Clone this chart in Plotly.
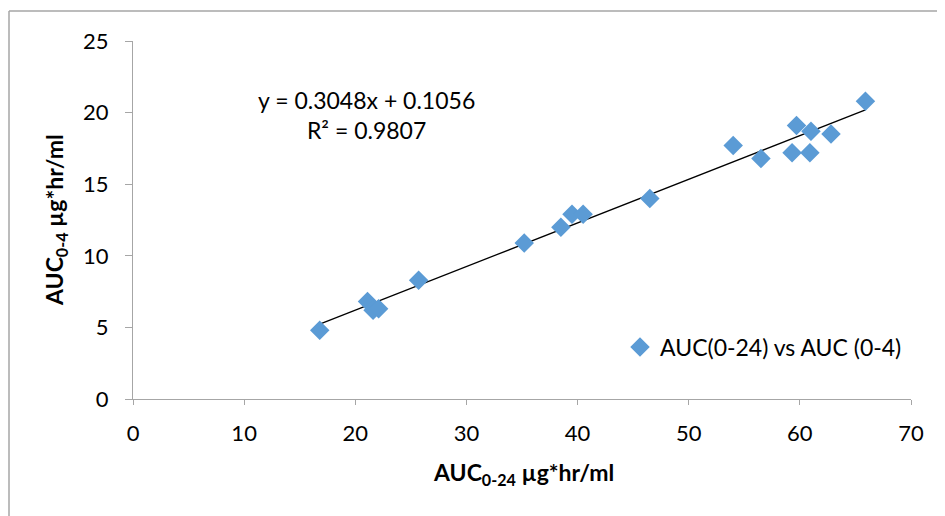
import plotly.graph_objects as go

auc_0_24 = [16.8, 21.1, 21.6, 22.1, 25.7, 35.2, 38.5, 39.5, 40.5, 46.5, 54.0, 56.5, 59.3, 59.7, 60.9, 61.0, 62.8, 65.9]
auc_0_4 = [4.8, 6.8, 6.2, 6.3, 8.3, 10.9, 12.0, 12.9, 12.9, 14.0, 17.7, 16.8, 17.2, 19.1, 17.2, 18.7, 18.5, 20.8]
slope = 0.3048
intercept = 0.1056
r2 = 0.9807
x_ticks = [0, 10, 20, 30, 40, 50, 60, 70]
y_ticks = [0, 5, 10, 15, 20, 25]

FONT = "Lato"
BLUE = "#5B9BD5"
GRID = "#A6A6A6"

# page offset of the figure inside the browser (default body margin)
OFF = 8
PW, PH = 778, 358  # plot area size

xmin, xmax = min(auc_0_24), max(auc_0_24)

fig = go.Figure()
fig.add_trace(go.Scatter(
    x=[xmin, xmax], y=[slope * xmin + intercept, slope * xmax + intercept],
    mode="lines", line=dict(color="black", width=1.3), showlegend=False, hoverinfo="skip"))
fig.add_trace(go.Scatter(
    x=auc_0_24, y=auc_0_4, mode="markers", name="AUC(0-24) vs AUC (0-4)",
    marker=dict(symbol="diamond", size=15, color=BLUE, line=dict(width=0))))

fig.update_layout(
    width=945 - OFF, height=516 - OFF,
    margin=dict(l=133 - OFF, r=34, t=41 - OFF, b=117),
    paper_bgcolor="white", plot_bgcolor="white",
    font=dict(family=FONT, size=23, color="black"),
    showlegend=True,
    legend=dict(x=0.626, y=0.145, xanchor="left", yanchor="middle",
                bgcolor="rgba(0,0,0,0)", font=dict(size=23, family=FONT),
                itemwidth=30),
    xaxis=dict(range=[0, 70], tickvals=x_ticks, showgrid=False, zeroline=False,
               showline=True, linecolor=GRID, linewidth=1, ticks="outside",
               ticklen=5, tickcolor=GRID, ticklabelstandoff=10,
               tickfont=dict(size=22, family=FONT)),
    yaxis=dict(range=[0, 25], tickvals=y_ticks, showgrid=False, zeroline=False,
               showline=True, linecolor=GRID, linewidth=1, ticks="outside",
               ticklen=7, tickcolor=GRID, ticklabelstandoff=12,
               tickfont=dict(size=22, family=FONT)),
    annotations=[
        dict(text=f"y = {slope}x + {intercept}<br>R² = {r2}", x=(366 - 133) / PW, y=(399 - 115.5) / PH,
             xref="paper", yref="paper", showarrow=False, align="center",
             xanchor="center", yanchor="middle",
             font=dict(size=23, family=FONT)),
        dict(text="<b>AUC<sub>0-24</sub> µg*hr/ml</b>", x=(523 - 133) / PW, y=(399 - 473) / PH,
             xref="paper", yref="paper", showarrow=False,
             xanchor="center", yanchor="middle",
             font=dict(size=23, family=FONT)),
        dict(text="<b>AUC<sub>0-4</sub> µg*hr/ml</b>", x=(55 - 133) / PW, y=(399 - 220) / PH,
             xref="paper", yref="paper", showarrow=False, textangle=-90,
             xanchor="center", yanchor="middle",
             font=dict(size=23, family=FONT)),
    ],
    shapes=[
        dict(type="line", xref="paper", yref="paper",
             x0=(9 - 133) / PW, x1=(945 - 133) / PW,
             y0=(399 - 11) / PH, y1=(399 - 11) / PH,
             line=dict(color=GRID, width=1.5)),
        dict(type="line", xref="paper", yref="paper",
             x0=(9 - 133) / PW, x1=(9 - 133) / PW,
             y0=(399 - 11) / PH, y1=(399 - 520) / PH,
             line=dict(color=GRID, width=1.5)),
    ],
)

fig.write_html("out.html")
